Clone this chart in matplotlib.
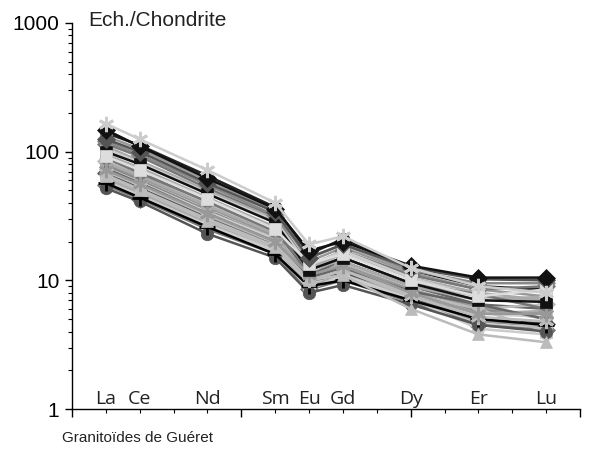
import matplotlib
matplotlib.use("Agg")
import matplotlib.pyplot as plt
from matplotlib.ticker import LogLocator, NullFormatter, FixedLocator

elements = ["La", "Ce", "Nd", "Sm", "Eu", "Gd", "Dy", "Er", "Lu"]
element_pos = [1, 2, 4, 6, 7, 8, 10, 12, 14]

# chondrite-normalised values (La, Ce, Nd, Sm, Eu, Gd, Dy, Er, Lu)
s01 = [165, 125, 72, 40, 19, 22, 12.5, 9.0, 8.0]
s02 = [148, 110, 62, 36, 17, 20, 13, 10.5, 10.5]
s03 = [125, 100, 57, 34, 15, 19, 12.5, 10.2, 10.0]
s04 = [140, 112, 65, 37, 16, 21, 12, 9, 8.5]
s05 = [132, 105, 60, 35, 14, 18, 11.5, 8.5, 7.5]
s06 = [115, 92, 52, 31, 13, 17, 11, 8.5, 9.0]
s07 = [110, 85, 50, 30, 12.5, 16, 10.5, 8, 7]
s08 = [92, 72, 43, 25, 13.5, 16, 10, 7.5, 8.5]
s09 = [100, 80, 47, 28, 12, 15, 9.5, 7, 6.8]
s10 = [95, 75, 44, 26, 11, 15, 9.5, 7.5, 7.0]
s11 = [88, 70, 40, 24, 11, 14, 9, 6.5, 6.0]
s12 = [85, 66, 39, 23, 10.5, 13.5, 8.5, 6, 6.5]
s13 = [80, 63, 37, 22, 10, 13, 8.5, 6.2, 5.0]
s14 = [78, 60, 35, 21, 11, 12.5, 8, 5.8, 5.5]
s15 = [75, 58, 34, 21, 10, 12, 8, 5.5, 5.2]
s16 = [72, 56, 33, 20, 11, 13, 8, 5.5, 5.5]
s17 = [70, 55, 32, 19.5, 10, 12, 7.5, 5.2, 4.8]
s18 = [68, 52, 31, 19, 9.5, 11.5, 7.2, 5, 4.6]
s19 = [65, 50, 29, 18, 10, 11, 6, 3.8, 3.3]
s20 = [63, 49, 29, 18, 9, 11, 7, 4.8, 4.4]
s21 = [60, 47, 27, 17, 9.5, 10.5, 7, 4.6, 4.2]
s22 = [57, 44, 26, 16, 9, 10, 7, 5, 4.5]
s23 = [55, 43, 25, 16, 8.5, 10, 6.8, 4.5, 4.1]
s24 = [52, 41, 23, 15, 8, 9.2, 6.5, 4.5, 4.0]
s25 = [62, 48, 28, 17, 9, 11, 7.5, 5.5, 5.8]
s26 = [82, 65, 38, 23, 10, 14, 9, 7, 7.5]
s27 = [105, 82, 48, 29, 13, 17, 10.5, 7.5, 6.2]
s28 = [120, 95, 55, 32, 15, 19, 12, 9.5, 9.5]
s29 = [90, 68, 41, 24, 12, 15, 9.5, 7.8, 6.0]
s30 = [74, 57, 33, 20, 10.5, 12.5, 8.2, 6.5, 5.0]
s31 = [66, 51, 30, 18.5, 9.8, 12, 7.8, 6, 4.0]
s32 = [58, 45, 27, 17, 8.5, 11, 7.2, 4.2, 3.8]

ASTER = (6, 2, 0)
# background samples first, highlighted samples last (drawn on top)
series = [
    (s04, "#222222", "o"), (s05, "#999999", "s"), (s06, "#777777", "D"),
    (s07, "#aaaaaa", "^"), (s10, "#aaaaaa", "o"), (s11, "#666666", "s"),
    (s12, "#bbbbbb", "D"), (s13, "#999999", "o"), (s14, "#888888", "^"),
    (s15, "#cccccc", "s"), (s18, "#555555", "D"), (s20, "#999999", "o"),
    (s21, "#cccccc", "s"), (s23, "#777777", "D"), (s25, "#aaaaaa", "^"),
    (s26, "#aaaaaa", "o"), (s27, "#cccccc", "s"), (s28, "#888888", "D"),
    (s29, "#777777", "o"), (s30, "#666666", "^"), (s31, "#bbbbbb", "s"),
    (s32, "#cccccc", "o"),
    (s24, "#555555", "o"), (s22, "#000000", "+"), (s19, "#bbbbbb", "^"),
    (s17, "#bbbbbb", ASTER), (s16, "#999999", ASTER), (s09, "#111111", "s"),
    (s08, "#dddddd", "s"), (s03, "#555555", "D"), (s02, "#111111", "D"),
    (s01, "#cccccc", ASTER),
]

plt.rcParams["font.family"] = ["Liberation Sans", "DejaVu Sans"]
fig = plt.figure(figsize=(5.89, 4.5), dpi=100)
ax = fig.add_axes([0.1222, 0.0911, 0.8625, 0.8578])

for vals, col, mk in series:
    mew = 2.0 if mk in ("+", ASTER) else 0.5
    ms = 11 if mk in ("+", ASTER) else 9
    ax.plot(element_pos, vals, color=col, lw=1.8, marker=mk, ms=ms,
            mfc=col, mec=col, mew=mew, zorder=3)

ax.set_yscale("log")
ax.set_ylim(1, 1000)
ax.set_xlim(0, 15.0)
ax.spines["top"].set_visible(False)
ax.spines["right"].set_visible(False)
ax.spines["left"].set_linewidth(1.0)
ax.spines["bottom"].set_linewidth(1.0)

ax.set_yticks([1, 10, 100, 1000])
ax.set_yticklabels(["1", "10", "100", "1000"], fontsize=15)
ax.yaxis.set_minor_locator(LogLocator(base=10, subs=range(2, 10)))
ax.yaxis.set_minor_formatter(NullFormatter())
ax.tick_params(axis="y", which="major", length=5, width=1, pad=4)
ax.tick_params(axis="y", which="minor", length=3, width=0.8)

ax.xaxis.set_major_locator(FixedLocator([0, 5, 10, 15]))
ax.xaxis.set_minor_locator(FixedLocator(range(0, 16)))
ax.set_xticklabels([])
ax.tick_params(axis="x", which="major", length=6, width=1)
ax.tick_params(axis="x", which="minor", length=3, width=0.8)

for el, p in zip(elements, element_pos):
    ax.text(p, 0.013, el, transform=ax.get_xaxis_transform(), ha="center",
            va="baseline", fontsize=14, family=["Open Sans", "DejaVu Sans"],
            color="#222222")

fig.text(88 / 589, 1 - 20 / 450, "Ech./Chondrite", fontsize=15,
         ha="left", va="center", color="#222222")
fig.text(62 / 589, 1 - 438 / 450, "Granitoïdes de Guéret", fontsize=11,
         ha="left", va="center", color="#222222")

fig.savefig("out.png", dpi=100)
